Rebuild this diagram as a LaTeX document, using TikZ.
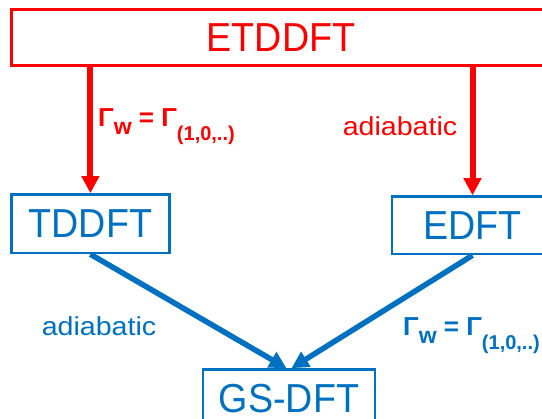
\documentclass[tikz,border=0pt]{standalone}
\usepackage{fontspec}
\setmainfont{Liberation Sans}
\newfontfamily\bigf{Liberation Sans}[FakeStretch=0.93]
\newfontfamily\smallf{Liberation Sans}[FakeStretch=1.1]
\usetikzlibrary{arrows.meta,calc}
\definecolor{myred}{RGB}{255,0,0}
\definecolor{myblue}{RGB}{0,112,192}
\newcommand\gammalabel{Γ\raisebox{-8pt}{\fontsize{23}{25}\selectfont w} = Γ\raisebox{-14pt}{\fontsize{20}{22}\selectfont (1,0,..)}}
\begin{document}
\begin{tikzpicture}[x=1pt,y=-1pt,
 box/.style={draw,line width=3pt,inner sep=0pt,font=\bigf\fontsize{40.5}{44}\selectfont},
 redbox/.style={box,draw=myred,text=myred},
 bluebox/.style={box,draw=myblue,text=myblue,line width=2.6pt},
 redarrow/.style={draw=myred,line width=6pt,-{Triangle[width=17pt,length=17pt]}},
 bluearrow/.style={draw=myblue,line width=5.5pt,-{Triangle[width=17pt,length=17pt]}},
 lab/.style={font=\smallf\fontsize{26}{28}\selectfont,inner sep=0pt},
 glab/.style={font=\bfseries\fontsize{26}{28}\selectfont,inner sep=0pt}]
\useasboundingbox (0,0) rectangle (542,419);
\node[redbox,minimum width=540pt,minimum height=56pt] (et) at (281,37.5) {ETDDFT};
\node[bluebox,minimum width=158pt,minimum height=58.5pt] (td) at (90.4,223.7) {TDDFT};
\node[bluebox,minimum width=161pt,minimum height=57.5pt] (ed) at (472.5,225.3) {EDFT};
\node[bluebox,minimum width=172pt,minimum height=59pt] (gs) at (289,399) {GS-DFT};
\draw[redarrow] (td.north |- et.south) -- (td.north);
\draw[redarrow] (ed.north |- et.south) -- (ed.north);
\draw[bluearrow] (td.south) -- ([xshift=-2.5pt]gs.north);
\draw[bluearrow] (ed.south) -- ([xshift=2.5pt]gs.north);
\node[lab,text=myred,anchor=base] (ra) at (400,136) {adiabatic};
\node[lab,text=myblue,anchor=base] (ba) at (99,336) {adiabatic};
\node[glab,text=myred,anchor=base west] (rg) at (98,127) {\gammalabel};
\node[glab,text=myblue,anchor=base west] (bg) at (403,336) {\gammalabel};
\end{tikzpicture}
\end{document}
